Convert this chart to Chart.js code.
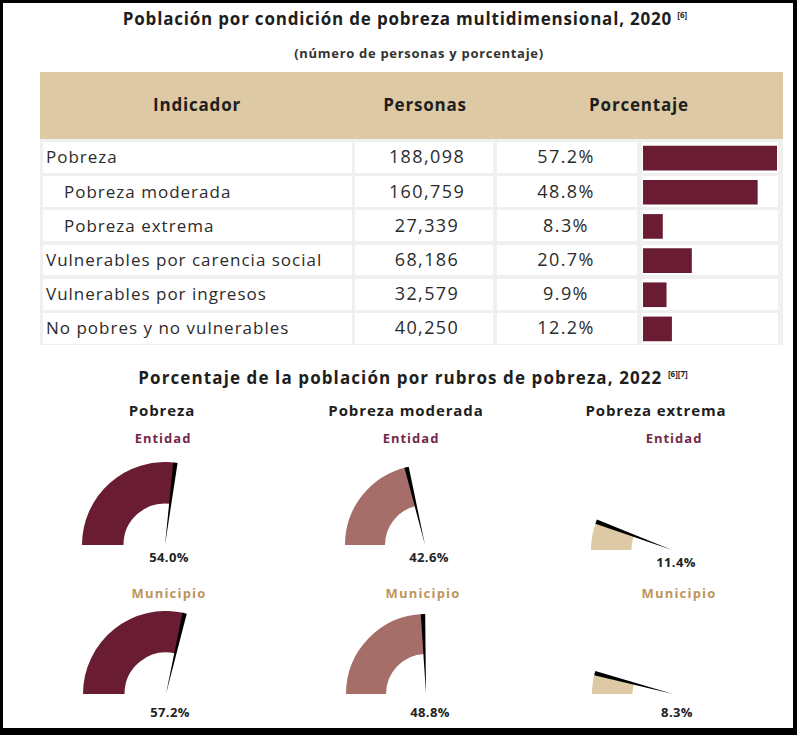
<!DOCTYPE html>
<html>
<head>
<meta charset="utf-8">
<script src="https://cdn.jsdelivr.net/npm/chart.js"></script>
<style>
  body { margin: 0; background: #fff; font-family: 'Open Sans', sans-serif; color: #2b2b2b; }
  #frame { position: absolute; left: 0; top: 0; width: 790px; height: 725px; border-style: solid; border-color: #000; border-width: 3px 4px 7px 3px; overflow: hidden; }
  .t { position: absolute; white-space: nowrap; transform: translate(-50%, -50%); }
  .l { position: absolute; white-space: nowrap; transform: translateY(-50%); }
  sup { font-size: 8px; vertical-align: 7px; letter-spacing: 0; }
  .cell { position: absolute; background: #fff; }
  canvas { position: absolute; }
</style>
</head>
<body>
<div id="frame"></div>
<div id="page"></div>
<script>
// datos de la tabla
const indicadores = ['Pobreza', 'Pobreza moderada', 'Pobreza extrema', 'Vulnerables por carencia social', 'Vulnerables por ingresos', 'No pobres y no vulnerables'];
const personas = [188098, 160759, 27339, 68186, 32579, 40250];
const porcentaje = [57.2, 48.8, 8.3, 20.7, 9.9, 12.2];

// datos de los indicadores tipo gauge
const rubros = ['Pobreza', 'Pobreza moderada', 'Pobreza extrema'];
const entidad = [54.0, 42.6, 11.4];
const municipio = [57.2, 48.8, 8.3];

const page = document.getElementById('page');

function addText(html, x, y, css, cls) {
    const d = document.createElement('div');
    d.className = cls || 't';
    d.innerHTML = html;
    d.style.left = x + 'px';
    d.style.top = y + 'px';
    d.style.cssText += css;
    page.appendChild(d);
    return d;
}
function addBox(x, y, w, h, bg) {
    const d = document.createElement('div');
    d.className = 'cell';
    d.style.cssText = 'left:' + x + 'px;top:' + y + 'px;width:' + w + 'px;height:' + h + 'px;background:' + bg;
    page.appendChild(d);
}

const titulo = 'font-size:17px;font-weight:700;color:#1e1e1e;letter-spacing:0.8px';
const celda = 'font-size:17px;color:#2b2b2b;letter-spacing:1px';
const numero = 'font-size:18px;color:#2b2b2b;letter-spacing:1.4px';

// titulo
addText('Población por condición de pobreza multidimensional, 2020 <sup>[6]</sup>', 405, 18, titulo);
addText('(número de personas y porcentaje)', 419, 53, 'font-size:13px;font-weight:700;color:#333;letter-spacing:0.7px');

// tabla
addBox(40, 72, 743, 67, '#DDC9A3');
addBox(40, 139, 743, 206, '#f0f0f0');
addText('Indicador', 197, 104, titulo);
addText('Personas', 425, 104, titulo);
addText('Porcentaje', 639, 104, titulo);

const cols = [[43, 308.5], [355, 138.3], [496.7, 140], [641.7, 136.3]];
const rowTop = 142, rowPitch = 34.2, rowH = 30.8;
indicadores.forEach((name, i) => {
    const y = rowTop + i * rowPitch;
    cols.forEach(c => addBox(c[0], y, c[1], rowH, '#fff'));
    const cy = y + rowH / 2 - 1;
    const indent = (i === 1 || i === 2) ? 18 : 0;
    addText(name, 46 + indent, cy, celda, 'l');
    addText(personas[i].toLocaleString('en-US'), 427, cy, numero);
    addText(porcentaje[i].toFixed(1) + '%', 566, cy, numero);
});

// barras de porcentaje
const bc = document.createElement('canvas');
bc.width = 134; bc.height = 205;
bc.style.left = '643px'; bc.style.top = '140.5px';
page.appendChild(bc);
new Chart(bc.getContext('2d'), {
    type: 'bar',
    data: {
        labels: indicadores,
        datasets: [{ data: porcentaje, backgroundColor: '#691C32', barThickness: 24, borderWidth: 0 }]
    },
    options: {
        indexAxis: 'y',
        responsive: false,
        animation: false,
        events: [],
        layout: { padding: 0 },
        plugins: { legend: { display: false }, tooltip: { enabled: false } },
        scales: {
            x: { display: false, min: 0, max: 57.2 },
            y: { display: false }
        }
    }
});

// segundo titulo
addText('Porcentaje de la población por rubros de pobreza, 2022 <sup>[6][7]</sup>', 413, 377, 'font-size:17px;font-weight:700;color:#1e1e1e;letter-spacing:1.1px');

// aguja del gauge
const needle = {
    id: 'needle',
    afterDatasetsDraw(chart) {
        const arc = chart.getDatasetMeta(0).data[0];
        const {x, y, outerRadius, endAngle} = arc.getProps(['x', 'y', 'outerRadius', 'endAngle'], true);
        const half = 2.2 / outerRadius;
        const ctx = chart.ctx;
        ctx.save();
        ctx.fillStyle = '#000';
        ctx.beginPath();
        ctx.moveTo(x, y);
        ctx.lineTo(x + Math.cos(endAngle - half) * outerRadius, y + Math.sin(endAngle - half) * outerRadius);
        ctx.lineTo(x + Math.cos(endAngle + half) * outerRadius, y + Math.sin(endAngle + half) * outerRadius);
        ctx.closePath();
        ctx.fill();
        ctx.restore();
    }
};

function gauge(value, color, cx, cy, r) {
    const c = document.createElement('canvas');
    c.width = 2 * r; c.height = r;
    c.style.left = (cx - r) + 'px'; c.style.top = (cy - r) + 'px';
    page.appendChild(c);
    new Chart(c.getContext('2d'), {
        type: 'doughnut',
        data: {
            labels: ['valor', 'resto'],
            datasets: [{
                data: [value, 100 - value],
                backgroundColor: [color, 'rgba(0,0,0,0)'],
                borderWidth: 0,
                hoverOffset: 0
            }]
        },
        options: {
            responsive: false,
            animation: false,
            events: [],
            rotation: -90,
            circumference: 180,
            cutout: '50%',
            layout: { padding: 0 },
            plugins: { legend: { display: false }, tooltip: { enabled: false } }
        },
        plugins: [needle]
    });
}

const colores = ['#691C32', '#A56E69', '#DDC9A3'];
const gx = [165, 425, 672];
const titleX = [162, 406, 656];
const entX = [163, 411, 674];
const munX = [169, 423, 679];
const etiqueta = 'font-size:13px;font-weight:700;color:#222;letter-spacing:0.4px';
rubros.forEach((name, i) => {
    addText(name, titleX[i], 410, 'font-size:15px;font-weight:700;color:#1e1e1e;letter-spacing:0.9px');
    addText('Entidad', entX[i], 438, 'font-size:13px;font-weight:700;color:#742a4a;letter-spacing:1px');
    addText('Municipio', munX[i], 593, 'font-size:13px;font-weight:700;color:#BC955C;letter-spacing:1.2px');
    const r = [83, 80, 81][i];
    const ey = i === 2 ? 550 : 545;
    gauge(entidad[i], colores[i], gx[i], ey, r);
    addText(entidad[i].toFixed(1) + '%', gx[i] + 4, ey + 12, etiqueta);
    gauge(municipio[i], colores[i], gx[i] + 1, 694, r);
    addText(municipio[i].toFixed(1) + '%', gx[i] + 5, 712, etiqueta);
});
</script>
</body>
</html>
